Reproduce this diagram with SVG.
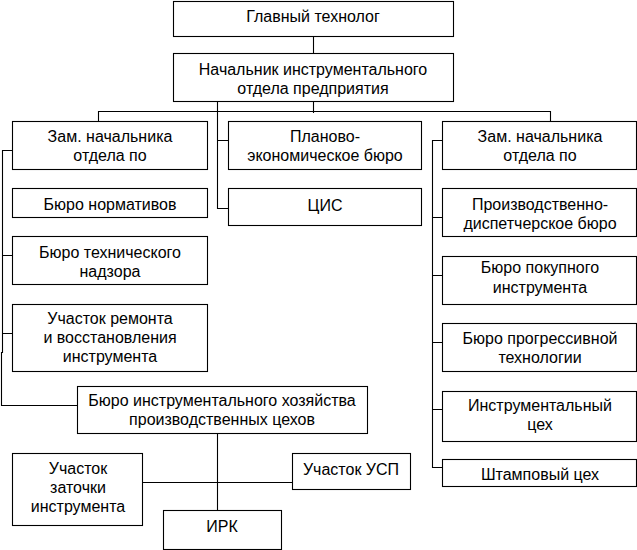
<svg xmlns="http://www.w3.org/2000/svg" width="637" height="550" viewBox="0 0 637 550">
<style>
rect{fill:#fff;stroke:#000;stroke-width:1.1}
text{font-family:"Liberation Sans",Arial,sans-serif;font-size:16px;fill:#000;text-anchor:middle}
#connectors path{fill:none;stroke:#000;stroke-width:1.1}
</style>
<rect x="0" y="0" width="637" height="550" style="stroke:none"/>
<g id="connectors">
<path d="M313.5,36 V53"/>
<path d="M313.5,101 V113 M98.5,121 V111.5 H550.5 V121"/>
<path d="M217.5,101 V208.5 H228 M217.5,140.5 H228"/>
<path d="M12,150.5 H2.5 V353 M1.5,352 V405.5 H77 M2.5,255.5 H12 M2.5,333.5 H12"/>
<path d="M442,140.5 H432.5 V467.5 H442 M432.5,217.5 H442 M432.5,275.5 H442 M432.5,342.5 H442 M432.5,409.5 H442"/>
<path d="M217.5,433 V510 M142,482.5 H292"/>
</g>
<g id="n1"><rect x="173.5" y="1.5" width="280" height="35"/><text x="313" y="22">Главный технолог</text></g>
<g id="n2"><rect x="173.5" y="53.5" width="280" height="48"/><text x="313" y="75">Начальник инструментального</text><text x="313" y="94">отдела предприятия</text></g>
<g id="n3"><rect x="12.5" y="121.5" width="195" height="48"/><text x="110" y="142">Зам. начальника</text><text x="110" y="161">отдела по</text></g>
<g id="n4"><rect x="228.5" y="121.5" width="193" height="48"/><text x="325" y="142">Планово-</text><text x="325" y="161">экономическое бюро</text></g>
<g id="n5"><rect x="228.5" y="188.5" width="193" height="37"/><text x="325" y="211">ЦИС</text></g>
<g id="n6"><rect x="442.5" y="121.5" width="194" height="48"/><text x="540" y="142">Зам. начальника</text><text x="540" y="161">отдела по</text></g>
<g id="n7"><rect x="12.5" y="188.5" width="195" height="29"/><text x="110" y="210">Бюро нормативов</text></g>
<g id="n8"><rect x="12.5" y="236.5" width="195" height="48"/><text x="110" y="258">Бюро технического</text><text x="110" y="277">надзора</text></g>
<g id="n9"><rect x="12.5" y="304.5" width="195" height="67"/><text x="110" y="324">Участок ремонта</text><text x="110" y="343">и восстановления</text><text x="110" y="362">инструмента</text></g>
<g id="n10"><rect x="77.5" y="386.5" width="290" height="47"/><text x="222" y="406">Бюро инструментального хозяйства</text><text x="222" y="425">производственных цехов</text></g>
<g id="n11"><rect x="12.5" y="453.5" width="130" height="72"/><text x="78" y="474">Участок</text><text x="78" y="493">заточки</text><text x="78" y="512">инструмента</text></g>
<g id="n12"><rect x="292.5" y="453.5" width="118" height="36"/><text x="351" y="475">Участок УСП</text></g>
<g id="n13"><rect x="163.5" y="510.5" width="118" height="39"/><text x="222" y="532">ИРК</text></g>
<g id="n14"><rect x="442.5" y="188.5" width="194" height="48"/><text x="540" y="210">Производственно-</text><text x="540" y="229">диспетчерское бюро</text></g>
<g id="n15"><rect x="442.5" y="256.5" width="194" height="48"/><text x="540" y="273">Бюро покупного</text><text x="540" y="293">инструмента</text></g>
<g id="n16"><rect x="442.5" y="323.5" width="194" height="48"/><text x="540" y="344">Бюро прогрессивной</text><text x="540" y="363">технологии</text></g>
<g id="n17"><rect x="442.5" y="391.5" width="194" height="50"/><text x="540" y="411">Инструментальный</text><text x="540" y="430">цех</text></g>
<g id="n18"><rect x="442.5" y="459.5" width="194" height="27"/><text x="540" y="480">Штамповый цех</text></g>
</svg>
